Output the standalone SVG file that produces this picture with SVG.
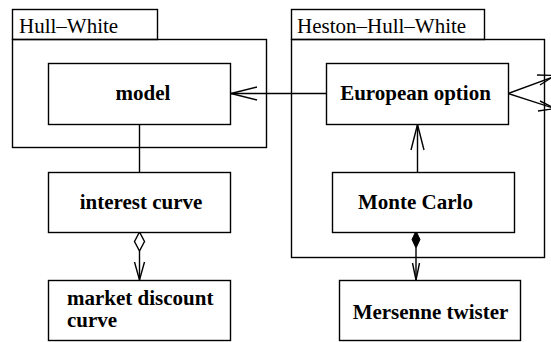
<svg xmlns="http://www.w3.org/2000/svg" width="551" height="342" viewBox="0 0 551 342">
<style>
.box{fill:#fff;stroke:#000;stroke-width:1.4}
.pkg{fill:none;stroke:#000;stroke-width:1.4}
.lbl{font-family:"Liberation Serif","Times New Roman",serif;font-size:21px;font-weight:bold;fill:#000;text-anchor:middle}
.tab{font-family:"Liberation Serif","Times New Roman",serif;font-size:21px;fill:#000}
.ln{fill:none;stroke:#000;stroke-width:1.4}
</style>
<rect width="551" height="342" fill="#fff"/>
<g id="pkg-hull-white">
<rect class="pkg" x="12.5" y="9.5" width="145" height="30"/>
<rect class="pkg" x="12.5" y="39.5" width="254" height="108"/>
<text class="tab" x="19" y="33">Hull–White</text>
</g>
<g id="pkg-heston-hull-white">
<rect class="pkg" x="291.5" y="9.5" width="193" height="30"/>
<rect class="pkg" x="291.5" y="39.5" width="253" height="218"/>
<text class="tab" x="297" y="33">Heston–Hull–White</text>
</g>
<g id="connectors">
<line class="ln" x1="139.5" y1="124" x2="139.5" y2="173"/>
<line class="ln" x1="326" y1="93.5" x2="231" y2="93.5"/>
<polyline class="ln" points="257,87 231,93.5 257,100"/>
<line class="ln" x1="417.5" y1="172" x2="417.5" y2="124.5"/>
<polyline class="ln" points="411,150 417.5,124.5 424,150"/>
<line class="ln" x1="508" y1="93.5" x2="556" y2="76"/>
<line class="ln" x1="508" y1="93.5" x2="556" y2="109"/>
<polyline class="ln" points="537,75 555,75.5 540,85"/>
<polyline class="ln" points="540,101 555,108.5 538,111"/>
<line class="ln" x1="139.5" y1="251" x2="139.5" y2="280"/>
<polygon class="ln" points="139.5,232 134.5,241.5 139.5,251 144.5,241.5" style="fill:#fff"/>
<polyline class="ln" points="134.5,262 139.5,280 144.5,262"/>
<line class="ln" x1="416" y1="248" x2="416" y2="280"/>
<polygon points="416,231 412,239.5 416,248 420,239.5" fill="#000" stroke="#000" stroke-width="1"/>
<polyline class="ln" points="412.5,263 416,280 419.5,263"/>
</g>
<g id="node-model">
<rect class="box" x="48.5" y="63.5" width="182" height="61"/>
<text class="lbl" x="143" y="100">model</text>
</g>
<g id="node-european-option">
<rect class="box" x="326.5" y="63.5" width="182" height="61"/>
<text class="lbl" x="415.5" y="100">European option</text>
</g>
<g id="node-interest-curve">
<rect class="box" x="48.5" y="172.5" width="182" height="60"/>
<text class="lbl" x="141" y="209">interest curve</text>
</g>
<g id="node-monte-carlo">
<rect class="box" x="332.5" y="172.5" width="182" height="60"/>
<text class="lbl" x="415.5" y="208.5">Monte Carlo</text>
</g>
<g id="node-market-discount-curve">
<rect class="box" x="48.5" y="280.5" width="182" height="60"/>
<text class="lbl" x="67" y="305" style="text-anchor:start">market discount</text>
<text class="lbl" x="67" y="327" style="text-anchor:start">curve</text>
</g>
<g id="node-mersenne-twister">
<rect class="box" x="339.5" y="280.5" width="181" height="60"/>
<text class="lbl" x="430.5" y="318.5">Mersenne twister</text>
</g>
</svg>
